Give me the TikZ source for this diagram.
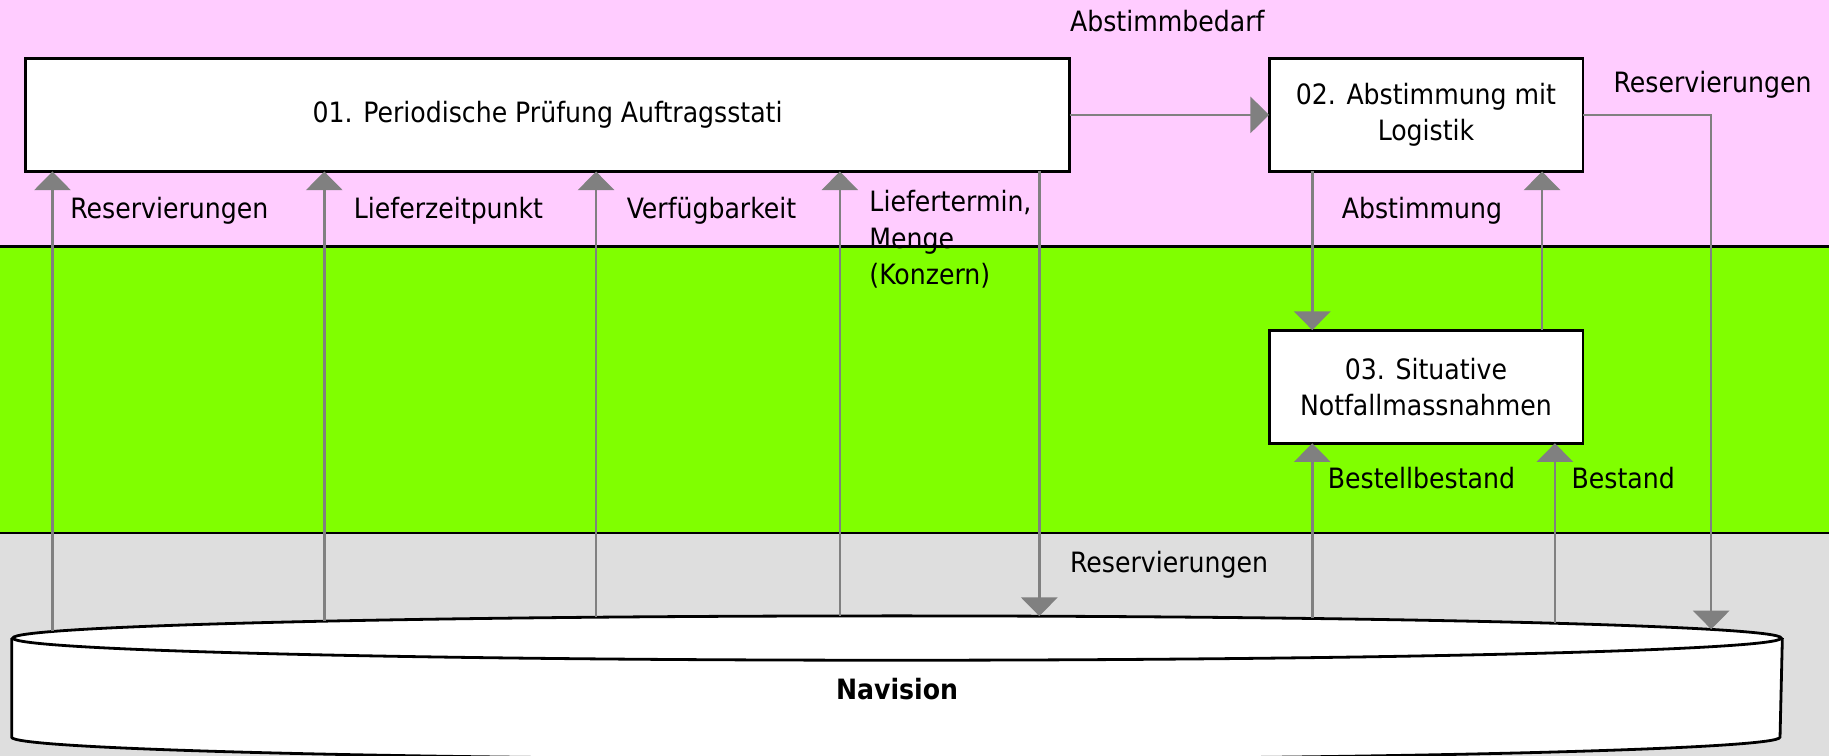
\documentclass[tikz,border=0pt]{standalone}
\usepackage{fontspec}
\setmainfont{DejaVu Sans Condensed}
\usetikzlibrary{arrows.meta}
\definecolor{bandpink}{HTML}{FFCCFF}
\definecolor{bandgreen}{HTML}{80FF00}
\definecolor{bandgrey}{HTML}{DEDEDE}
\definecolor{flowgrey}{HTML}{808080}
\begin{document}
\begin{tikzpicture}[x=0.5pt,y=-0.5pt,
  every node/.style={font=\fontsize{12}{15.5}\selectfont},
  box/.style={draw=black, line width=1.2pt, fill=white, inner sep=0pt, outer sep=0pt,
    align=center, minimum height=48.5pt},
  lbl/.style={anchor=base west, inner sep=0pt},
  flow/.style={draw=flowgrey, line width=1.05pt, -{Triangle[width=15.5pt,length=8pt]}},
  band/.style={line width=1.2pt, draw=black}
]
\useasboundingbox (0,0) rectangle (1568,648);
% bands
\fill[bandpink] (0,0) rectangle (1568,211);
\fill[bandgreen] (0,211) rectangle (1568,457);
\fill[bandgrey] (0,457) rectangle (1568,648);
\draw[band] (0,211) -- (1568,211);
\draw[band] (0,457) -- (1568,457);
% cylinder
\fill[white] (10,547) -- (10,632) arc[start angle=180,end angle=360,x radius=379pt,y radius=9.5pt] -- (1528,547) -- cycle;
\draw[line width=1.2pt] (10,547) -- (10,632) arc[start angle=180,end angle=360,x radius=379pt,y radius=9.5pt] -- (1528,547);
\draw[line width=1.2pt, fill=white] (769,547) ellipse [x radius=379pt, y radius=9.5pt];
\node[font=\fontsize{12}{15.5}\selectfont\bfseries] (nav) at (769,591) {Navision};
% points on the top ellipse
\coordinate (c1) at (45,541.3);
\coordinate (c2) at (278,532.5);
\coordinate (c3) at (511,529.1);
\coordinate (c4) at (720,528.0);
\coordinate (c5) at (891,528.2);
\coordinate (c6) at (1125,530.2);
\coordinate (c7) at (1333,534.3);
\coordinate (c8) at (1467,539.5);
% boxes
\node[box, minimum width=447.5pt] (b1) at (469.5,98.5) {01. Periodische Prüfung Auftragsstati};
\node[box, minimum width=134.5pt] (b2) at (1222.5,98.5) {02. Abstimmung mit\\Logistik};
\node[box, minimum width=134.5pt] (b3) at (1222.5,331.5) {03. Situative\\Notfallmassnahmen};
% connectors
\draw[flow] (c1) -- (c1 |- b1.south);
\draw[flow] (c2) -- (c2 |- b1.south);
\draw[flow] (c3) -- (c3 |- b1.south);
\draw[flow] (c4) -- (c4 |- b1.south);
\draw[flow] (c5 |- b1.south) -- (c5);
\draw[flow] (b1.east) -- (b2.west);
\coordinate (d1) at (1125,0);
\coordinate (d2) at (1322,0);
\draw[flow] (d1 |- b2.south) -- (d1 |- b3.north);
\draw[flow] (d2 |- b3.north) -- (d2 |- b2.south);
\draw[flow] (c6) -- (c6 |- b3.south);
\draw[flow] (c7) -- (c7 |- b3.south);
\draw[flow] (b2.east) -- (c8 |- b2.east) -- (c8);
% labels
\node[lbl] (l1) at (60,187) {Reservierungen};
\node[lbl] (l2) at (303,187) {Lieferzeitpunkt};
\node[lbl] (l3) at (537,187) {Verfügbarkeit};
\node[anchor=north west, inner sep=0pt, align=left] (l4) at (745,163) {Liefertermin,\\Menge\\(Konzern)};
\node[lbl] (l5) at (917,27) {Abstimmbedarf};
\node[lbl] (l6) at (1383,79) {Reservierungen};
\node[lbl] (l7) at (1150,187) {Abstimmung};
\node[lbl] (l8) at (917,491) {Reservierungen};
\node[lbl] (l9) at (1138,419) {Bestellbestand};
\node[lbl] (l10) at (1347,419) {Bestand};
\end{tikzpicture}
\end{document}
